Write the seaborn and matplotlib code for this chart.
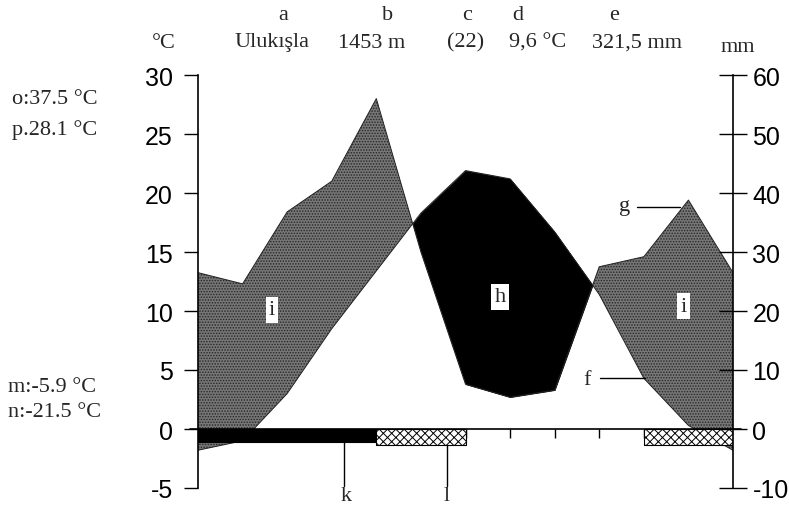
import matplotlib
matplotlib.use("Agg")
import matplotlib.pyplot as plt
import seaborn as sns
import numpy as np
import pandas as pd

# Monthly climate values for Ulukışla (January repeated at the end to close the year)
months = ["Jan", "Feb", "Mar", "Apr", "May", "Jun",
          "Jul", "Aug", "Sep", "Oct", "Nov", "Dec"]
temp_c = [-1.8, -1.0, 3.0, 8.5, 13.4, 18.3, 21.9, 21.2, 16.7, 11.4, 4.3, 0.3]
precip_mm = [26.5, 24.6, 36.8, 42.0, 56.0, 30.0, 7.6, 5.4, 6.6, 27.5, 29.2, 38.8]

# Frost periods: (start month index, end month index)
frost_certain = [(0, 4)]
frost_probable = [(4, 6), (10, 12)]

temp_ticks = [30, 25, 20, 15, 10, 5, 0, -5]
precip_ticks = [60, 50, 40, 30, 20, 10, 0, -10]

header_letters = ["a", "b", "c", "d", "e"]
header_values = ["Ulukışla", "1453 m", "(22)", "9,6 °C", "321,5 mm"]
header_x = [283, 388, 467, 518, 614]
header_vx = [272, 372, 466, 538, 637]

side_top = ["o:37.5 °C", "p.28.1 °C"]
side_bottom = ["m:-5.9 °C", "n:-21.5 °C"]

sns.set_theme(style="white")
plt.rcParams["font.family"] = ["Liberation Serif", "DejaVu Serif"]
plt.rcParams["hatch.linewidth"] = 0.7
plt.rcParams["axes.unicode_minus"] = False

W, H = 789, 510
fig = plt.figure(figsize=(W / 100, H / 100), dpi=100)
ax = fig.add_axes([198 / W, 1 - 489 / H, 535 / W, (489 - 76) / H])
ax.set_facecolor("white")

df = pd.DataFrame({
    "pos": np.arange(len(months) + 1),
    "month": months + months[:1],
    "temp": temp_c + temp_c[:1],
    "precip": precip_mm + precip_mm[:1],
})
df["precip_scaled"] = df["precip"] / 2.0  # 10 °C corresponds to 20 mm

x = df["pos"].to_numpy(float)
t = df["temp"].to_numpy(float)
p = df["precip_scaled"].to_numpy(float)

# humid (precipitation above temperature) and arid periods
ax.fill_between(x, t, p, where=p >= t, interpolate=True,
                facecolor="#767676", edgecolor="#262626", hatch="......",
                linewidth=0, zorder=1)
ax.fill_between(x, t, p, where=p < t, interpolate=True,
                facecolor="black", edgecolor="black", linewidth=0.5, zorder=1)

sns.lineplot(data=df, x="pos", y="temp", ax=ax, color="#222222",
             linewidth=0.7, zorder=2, legend=False)
sns.lineplot(data=df, x="pos", y="precip_scaled", ax=ax, color="#222222",
             linewidth=0.7, zorder=2, legend=False)

# month ticks along the zero line
ax.vlines(df["pos"][1:-1], -0.75, 0, color="black", linewidth=1.0, zorder=2)
ax.plot([-0.18, 12.18], [0, 0], color="black", linewidth=1.2,
        clip_on=False, zorder=4)

# frost bars
for a, b in frost_certain:
    ax.fill_between([a, b], [0, 0], [-1.1, -1.1], facecolor="black",
                    edgecolor="black", linewidth=0.8, zorder=3)
for a, b in frost_probable:
    ax.fill_between([a, b], [0, 0], [-1.35, -1.35], facecolor="white",
                    edgecolor="black", hatch="xxxx", linewidth=0.8, zorder=3)

ax.set_xlim(0, 12)
ax.set_ylim(-5, 30)
ax.set_yticks(temp_ticks)
ax.set_xticks([])
ax.set_xlabel("")
ax.set_ylabel("")
for s in ["top", "bottom", "right"]:
    ax.spines[s].set_visible(False)
ax.spines["left"].set_color("black")
ax.spines["left"].set_linewidth(1.2)
ax.tick_params(axis="y", direction="out", length=10, width=1.0,
               colors="black", pad=8, labelsize=18, left=True)
for lab in ax.get_yticklabels():
    lab.set_family(["Liberation Sans", "DejaVu Sans"])

ax2 = ax.twinx()
ax2.set_ylim(-10, 60)
ax2.set_yticks(precip_ticks)
for s in ["top", "bottom", "left"]:
    ax2.spines[s].set_visible(False)
ax2.spines["right"].set_color("black")
ax2.spines["right"].set_linewidth(1.2)
ax2.tick_params(axis="y", direction="inout", length=20, width=1.0,
                colors="black", pad=4, labelsize=18, right=True)
for lab in ax2.get_yticklabels():
    lab.set_family(["Liberation Sans", "DejaVu Sans"])
ax2.grid(False)
ax.grid(False)

# area labels
box = dict(boxstyle="square,pad=0.15", facecolor="white", edgecolor="none")
ax.text(1.66, 10.1, "i", ha="center", va="center", fontsize=16, bbox=box, zorder=5)
ax.text(10.9, 10.4, "i", ha="center", va="center", fontsize=16, bbox=box, zorder=5)
ax.text(6.77, 11.2, "h", ha="center", va="center", fontsize=16, bbox=box, zorder=5)

# pointer labels
ax.plot([9.85, 10.82], [18.8, 18.8], color="black", linewidth=1.0, zorder=5)
ax.text(9.7, 18.9, "g", ha="right", va="center", fontsize=16, zorder=5)
ax.plot([9.02, 10.02], [4.3, 4.3], color="black", linewidth=1.0, zorder=5)
ax.text(8.8, 4.2, "f", ha="right", va="center", fontsize=16, zorder=5)

ax.plot([3.27, 3.27], [-1.1, -4.85], color="black", linewidth=1.0,
        clip_on=False, zorder=5)
ax.plot([5.58, 5.58], [-1.35, -4.85], color="black", linewidth=1.0,
        clip_on=False, zorder=5)
ax.text(3.32, -5.65, "k", ha="center", va="center", fontsize=16, clip_on=False)
ax.text(5.58, -5.65, "l", ha="center", va="center", fontsize=16, clip_on=False)

# header
for lx, vx, letter, value in zip(header_x, header_vx, header_letters, header_values):
    fig.text(lx / W, 1 - 15 / H, letter, ha="center", va="center", fontsize=16)
    fig.text(vx / W, 1 - 43 / H, value, ha="center", va="center", fontsize=16)
fig.text(164 / W, 1 - 43 / H, "°C", ha="center", va="center", fontsize=16)
fig.text(738 / W, 1 - 47 / H, "mm", ha="center", va="center", fontsize=16)

for i, s in enumerate(side_top):
    fig.text(12 / W, 1 - (100 + 30 * i) / H, s, ha="left", va="center", fontsize=16)
for i, s in enumerate(side_bottom):
    fig.text(8 / W, 1 - (388 + 25 * i) / H, s, ha="left", va="center", fontsize=16)

fig.savefig("out.png", dpi=100, facecolor="white")
